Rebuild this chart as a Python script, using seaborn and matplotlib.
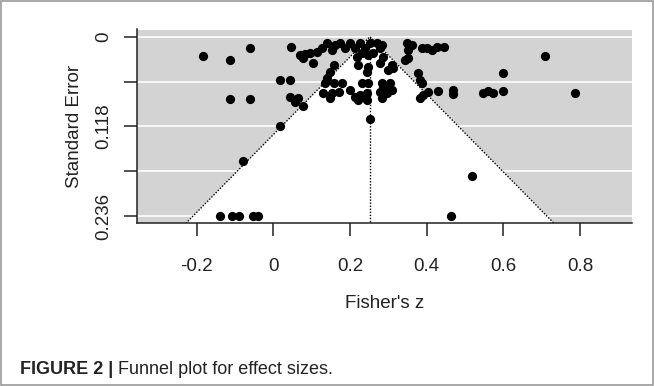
import numpy as np
import pandas as pd
import matplotlib
matplotlib.use("Agg")
import matplotlib.pyplot as plt
import seaborn as sns
from matplotlib.patches import Polygon, Rectangle

# ---- data ----
fisher_z = [
    -0.183, -0.113, -0.060, -0.113, -0.060, 0.018, 0.077, 0.252, 0.018, 0.044,
    0.046, 0.070, 0.083, 0.096, 0.078, 0.104, 0.113, 0.126, 0.139, 0.152,
    0.161, 0.174, 0.187, 0.200, 0.213, 0.226, 0.239, 0.252, 0.270, 0.278,
    0.261, 0.248, 0.231, 0.218, 0.157, 0.148, 0.139, 0.135, 0.157, 0.178,
    0.222, 0.248, 0.244, 0.231, 0.248, 0.278, 0.287, 0.309, 0.313, 0.283,
    0.304, 0.291, 0.278, 0.296, 0.309, 0.130, 0.152, 0.170, 0.148, 0.200,
    0.213, 0.226, 0.244, 0.222, 0.244, 0.044, 0.065, 0.057, 0.348, 0.361,
    0.352, 0.387, 0.400, 0.413, 0.426, 0.444, 0.344, 0.351, 0.299, 0.283,
    0.709, 0.600, 0.378, 0.383, 0.387, 0.404, 0.391, 0.383, 0.430, 0.470,
    0.470, 0.548, 0.561, 0.574, 0.600, 0.787, 0.287, 0.283, -0.139, -0.109,
    -0.091, -0.052, -0.039, 0.463, -0.080, 0.518,
]
std_err = [
    0.0253, 0.0305, 0.0152, 0.0817, 0.0817, 0.1170, 0.0909, 0.1080, 0.0568, 0.0568,
    0.0139, 0.0240, 0.0227, 0.0218, 0.0283, 0.0349, 0.0197, 0.0152, 0.0087, 0.0174,
    0.0109, 0.0087, 0.0152, 0.0087, 0.0152, 0.0087, 0.0152, 0.0087, 0.0087, 0.0152,
    0.0218, 0.0240, 0.0218, 0.0262, 0.0371, 0.0459, 0.0545, 0.0611, 0.0611, 0.0611,
    0.0371, 0.0393, 0.0459, 0.0611, 0.0611, 0.0349, 0.0262, 0.0371, 0.0414, 0.0611,
    0.0611, 0.0677, 0.0721, 0.0742, 0.0699, 0.0742, 0.0742, 0.0721, 0.0808, 0.0699,
    0.0787, 0.0764, 0.0742, 0.0830, 0.0830, 0.0787, 0.0808, 0.0852, 0.0079, 0.0109,
    0.0174, 0.0152, 0.0152, 0.0174, 0.0139, 0.0139, 0.0305, 0.0279, 0.0437, 0.0109,
    0.0249, 0.0480, 0.0480, 0.0568, 0.0611, 0.0721, 0.0764, 0.0808, 0.0708, 0.0699,
    0.0751, 0.0734, 0.0708, 0.0742, 0.0708, 0.0742, 0.0656, 0.0808, 0.2360, 0.2360,
    0.2360, 0.2360, 0.2360, 0.2360, 0.1630, 0.1826,
]
pooled_estimate = 0.252
x_ticks = [-0.2, 0.0, 0.2, 0.4, 0.6, 0.8]
x_tick_labels = ["-0.2", "0", "0.2", "0.4", "0.6", "0.8"]
y_ticks = [0.0, 0.059, 0.118, 0.177, 0.236]
y_tick_labels = ["0", "", "0.118", "", "0.236"]
x_label = "Fisher's z"
y_label = "Standard Error"
caption_bold = "FIGURE 2 |"
caption_rest = " Funnel plot for effect sizes."

df = pd.DataFrame({"z": fisher_z, "se": std_err})

sns.set_theme(style="ticks")
plt.rcParams['font.family'] = ['Liberation Sans', 'DejaVu Sans']

W, H = 654, 386
fig = plt.figure(figsize=(W / 100, H / 100), dpi=100)
ax = fig.add_axes([137 / W, 1 - 223.5 / H, 495 / W, 194 / H])
ax.set_facecolor('#d3d3d3')

se_bottom = 0.2454
ax.set_xlim(-0.356, 0.936)
ax.set_ylim(se_bottom, -0.0094)

# grid lines
for yv in y_ticks:
    ax.axhline(yv, color='white', lw=1.2, zorder=0.6)

# funnel region
lo = pooled_estimate - 1.96 * se_bottom
hi = pooled_estimate + 1.96 * se_bottom
ax.add_patch(Polygon([[lo, se_bottom], [pooled_estimate, 0.0], [hi, se_bottom]],
                     closed=True, fc='white', ec='none', zorder=1))
ax.plot([lo, pooled_estimate, hi], [se_bottom, 0.0, se_bottom],
        color='black', ls=(0, (1, 1.2)), lw=1.0, zorder=2)
ax.plot([pooled_estimate, pooled_estimate], [0.0, se_bottom],
        color='black', ls=(0, (1, 1.2)), lw=1.0, zorder=2)

sns.scatterplot(data=df, x="z", y="se", color='black', s=44, linewidth=0,
                ax=ax, zorder=3, legend=False)

ax.set_xticks(x_ticks)
ax.set_xticklabels(x_tick_labels)
ax.set_yticks(y_ticks)
ax.set_yticklabels(y_tick_labels, rotation=90, va='center')
ax.tick_params(axis='both', length=9.5, width=1.1, color='#222222',
               labelsize=13.5, labelcolor='#222222')
ax.tick_params(axis='x', pad=15)
ax.tick_params(axis='y', pad=8)

for s in ['top', 'right']:
    ax.spines[s].set_visible(False)
for s in ['left', 'bottom']:
    ax.spines[s].set_linewidth(1.1)
    ax.spines[s].set_color('#222222')

ax.set_xlabel(x_label, fontsize=13.5, color='#222222')
ax.set_ylabel(y_label, fontsize=13.5, color='#222222')
ax.xaxis.set_label_coords(0.5, -0.37)
ax.yaxis.set_label_coords(-0.11, 0.5)

# caption
t1 = fig.text(20 / W, 1 - 369 / H, caption_bold, fontsize=13, fontweight='bold',
              color='#222222', va='center')
ax.annotate(caption_rest, xy=(1, 0.5), xycoords=t1, va='center', ha='left',
            fontsize=13, color='#222222', annotation_clip=False)

# outer frame
fig.add_artist(Rectangle((0.002, 0.003), 0.996, 0.994, transform=fig.transFigure,
                         fill=False, ec='#9a9a9a', lw=1.2))

fig.savefig("out.png", dpi=100)
